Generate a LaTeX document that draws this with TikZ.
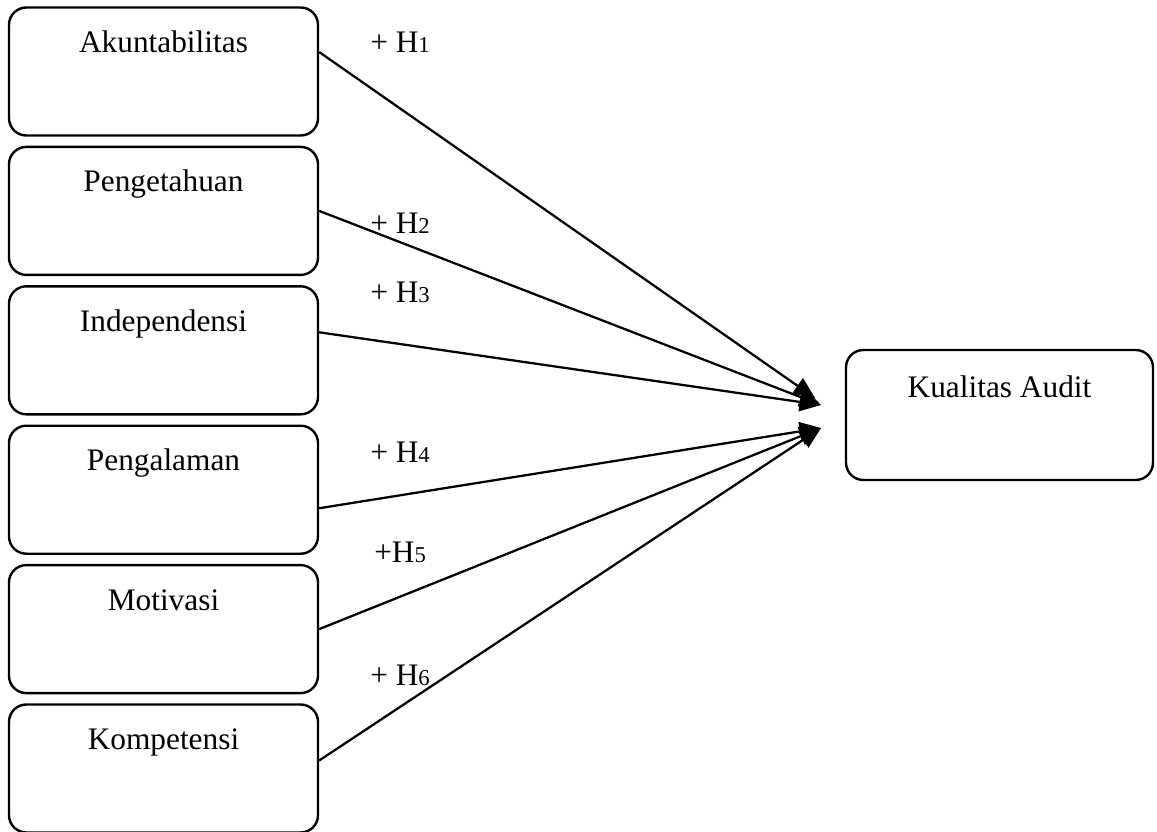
\documentclass[tikz,border=0pt]{standalone}
\usepackage{fontspec}
\setmainfont{Liberation Serif}
\usetikzlibrary{arrows.meta}
\newcommand{\hipo}[1]{H{\fontsize{17}{20}\selectfont #1}}

\begin{document}
\begin{tikzpicture}[x=0.75pt,y=-0.75pt,
  kotak/.style={draw,line width=1.8pt,rounded corners=13pt,inner xsep=0pt,inner ysep=0pt,text depth=62.25pt,font=\fontsize{23.5}{27}\selectfont},
  panah/.style={line width=1.7pt,-{Triangle[length=16pt,width=14pt]}},
  hip/.style={anchor=base west,inner sep=0pt,font=\fontsize{23.5}{27}\selectfont}]
\useasboundingbox (0,0) rectangle (1157,832);
\foreach \nm/\teks [count=\i] in {akun/Akuntabilitas,peng/Pengetahuan,inde/Independensi,pngl/Pengalaman,moti/Motivasi,komp/Kompetensi}{
  \node[kotak,minimum width=231.75pt,text height=33.75pt] (\nm) at (163.5,{71.5+139.4*(\i-1)}) {\teks};}
\node[kotak,minimum width=230.25pt,text height=35.25pt] (kual) at (999.5,415) {Kualitas Audit};
\coordinate (ujungA) at (815,398);
\coordinate (ujungB) at (821,405);
\coordinate (ujungC) at (821,428);
\foreach \nm/\dy/\uj in {akun/14.6/ujungA,peng/0/ujungB,inde/13.5/ujungB,pngl/-13.9/ujungC,moti/0/ujungC,komp/6/ujungC}{
  \draw[panah] ([yshift=\dy pt]\nm.east) -- (\uj);}
\foreach \x/\y/\lab in {370/52/{+ \hipo{1}},370/233/{+ \hipo{2}},370/302/{+ \hipo{3}},370/462/{+ \hipo{4}},374/562/{+\hipo{5}},370/685/{+ \hipo{6}}}{
  \node[hip] at (\x,\y) {\lab};}
\end{tikzpicture}
\end{document}
